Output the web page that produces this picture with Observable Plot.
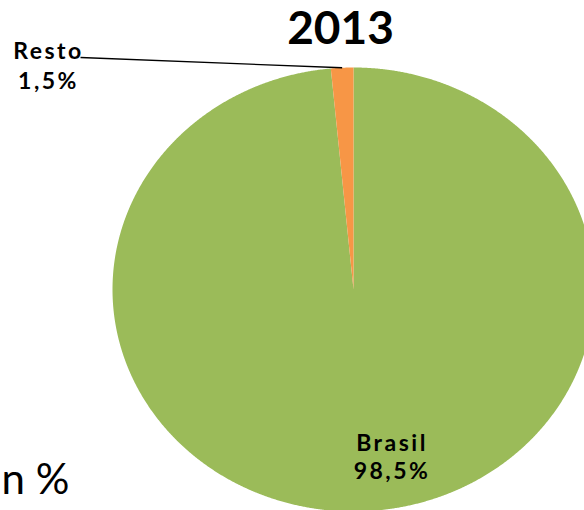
<!DOCTYPE html>
<html>
<head>
<meta charset="utf-8">
<script src="https://cdn.jsdelivr.net/npm/d3@7"></script>
<script src="https://cdn.jsdelivr.net/npm/@observablehq/plot@0.6"></script>
<style>
  html, body { margin: 0; padding: 0; background: #fff; overflow: hidden; }
  #chart { width: 584px; height: 510px; }
</style>
</head>
<body>
<div id="chart"></div>
<script>
// ---- data ----
const year = "2013";
const categories = ["Brasil", "Resto"];
const shares = [98.5, 1.5];
const shareLabels = ["98,5%", "1,5%"];
const colors = ["#9BBB59", "#F79646"];
const unitNote = "n %";

// ---- layout ----
const W = 584, H = 510;
const cx = 353, cy = 289, rx = 241, ry = 222;
const xs = d3.scaleLinear([-1, 1], [cx - rx, cx + rx]);
const ys = d3.scaleLinear([-1, 1], [cy + ry, cy - ry]);

const rows = categories.map((c, i) => ({name: c, value: shares[i], label: shareLabels[i]}));
const arcs = d3.pie().sort(null).value(d => d.value)(rows);

// polygon points for each slice (unit circle, stretched to ellipse by scales)
const pts = [];
for (const a of arcs) {
  pts.push({name: a.data.name, x: 0, y: 0});
  const steps = Math.max(4, Math.ceil((a.endAngle - a.startAngle) / 0.004));
  for (let i = 0; i <= steps; i++) {
    const t = a.startAngle + (a.endAngle - a.startAngle) * i / steps;
    pts.push({name: a.data.name, x: Math.sin(t), y: Math.cos(t)});
  }
}

const mid = a => (a.startAngle + a.endAngle) / 2;
const brasil = arcs[0], resto = arcs[1];

// inside label (Brasil)
const inside = [{
  x: Math.sin(mid(brasil)) * 0.75,
  y: Math.cos(mid(brasil)) * 0.75,
  text: brasil.data.name + "\n" + brasil.data.label
}];

// outside label (Resto) with leader line
const restoLabel = [{x: xs.invert(47), y: ys.invert(64), text: resto.data.name + "\n" + resto.data.label}];
const leader = [{
  x1: xs.invert(80), y1: ys.invert(57),
  x2: Math.sin(mid(resto)), y2: Math.cos(mid(resto))
}];

const labelFont = "Lato, 'Open Sans', sans-serif";

const plot = Plot.plot({
  width: W, height: H, margin: 0,
  x: {domain: [-1, 1], range: [cx - rx, cx + rx], axis: null},
  y: {domain: [-1, 1], range: [cy + ry, cy - ry], axis: null},
  color: {domain: categories, range: colors},
  style: {background: "#fff", overflow: "hidden"},
  marks: [
    Plot.line(pts, {x: "x", y: "y", z: "name", fill: "name", stroke: "none", curve: "linear-closed"}),
    Plot.link(leader, {x1: "x1", y1: "y1", x2: "x2", y2: "y2", stroke: "#000", strokeWidth: 1.3}),
    Plot.text(inside, {x: "x", y: "y", text: "text", dx: 30, lineAnchor: "middle", lineHeight: 1.25,
      fontSize: 23, fontWeight: "bold", fontFamily: labelFont, fill: "#000"}),
    Plot.text(restoLabel, {x: "x", y: "y", text: "text", dx: 1, lineAnchor: "middle", lineHeight: 1.3,
      fontSize: 23, fontWeight: "bold", fontFamily: labelFont, fill: "#000"}),
    Plot.text([year], {frameAnchor: "top", dx: 48, dy: 11, lineAnchor: "top",
      fontSize: 46, fontWeight: "bold", fontFamily: labelFont, fill: "#000"}),
    Plot.text([unitNote], {frameAnchor: "bottom-left", textAnchor: "start", lineAnchor: "bottom", dx: 1, dy: -17,
      fontSize: 42, fontFamily: labelFont, fill: "#000"})
  ]
});
// data labels use the slide's loose letter spacing
d3.select(plot).selectAll('g[aria-label="text"]')
  .filter((d, i) => i < 2)
  .attr("letter-spacing", "2.5px");
document.getElementById("chart").appendChild(plot);
</script>
</body>
</html>
